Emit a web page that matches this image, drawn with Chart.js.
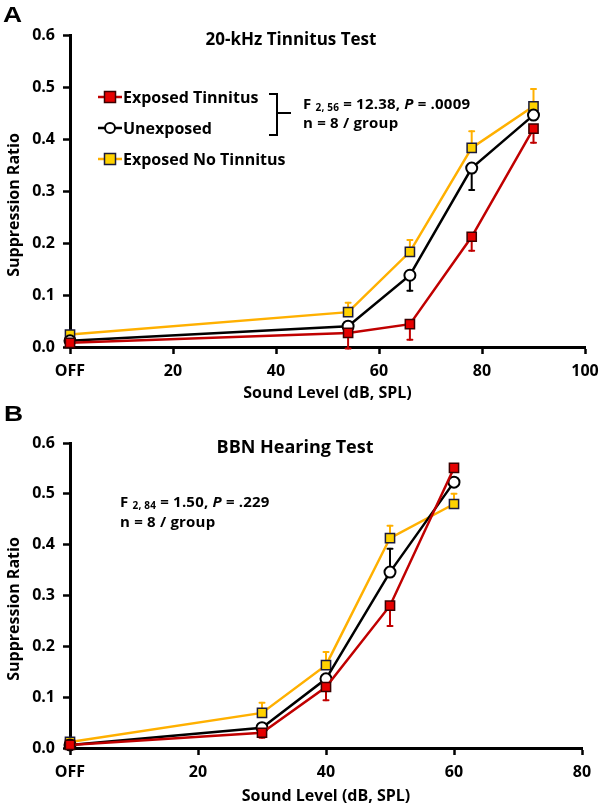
<!DOCTYPE html>
<html><head><meta charset="utf-8">
<script src="https://cdn.jsdelivr.net/npm/chart.js@4.4.1/dist/chart.umd.min.js"></script>
<style>
html,body{margin:0;padding:0;background:#fff;}
#wrap{position:relative;width:600px;height:806px;overflow:hidden;font-family:"Open Sans",sans-serif;}
.cv{position:absolute;left:0;width:600px;height:403px;}
.lab{position:absolute;font-weight:bold;color:#000;white-space:nowrap;line-height:1;}
.panel{font-family:"Liberation Sans",Arial,sans-serif;font-size:22px;transform:scaleX(1.2);transform-origin:0 0;}
.ttl{font-size:17px;transform:translateX(-50%);}
.ann{font-size:15px;letter-spacing:0.2px;}
.ann sub{font-size:10px;vertical-align:-2px;}
.ytl{font-size:16px;transform:translate(-50%,-50%) rotate(-90deg);}
</style></head><body>
<div id="wrap">
 <div class="cv" style="top:0"><canvas id="cA" width="600" height="403"></canvas></div>
 <div class="cv" style="top:403px"><canvas id="cB" width="600" height="403"></canvas></div>
 <div class="lab panel" style="left:3px;top:4px">A</div>
 <div class="lab panel" style="left:4px;top:403px">B</div>
 <div class="lab ttl" style="left:291px;top:30px">20-kHz Tinnitus Test</div>
 <div class="lab ttl" style="left:295px;top:437px;font-size:18px">BBN Hearing Test</div>
 <div class="lab ann" style="left:303px;top:96px">F <sub>2, 56</sub> = 12.38, <i>P</i> = .0009</div>
 <div class="lab ann" style="left:303px;top:115px">n = 8 / group</div>
 <div class="lab ann" style="left:120px;top:494px">F <sub>2, 84</sub> = 1.50, <i>P</i> = .229</div>
 <div class="lab ann" style="left:120px;top:514px">n = 8 / group</div>
 <div class="lab ytl" style="left:13px;top:205px">Suppression Ratio</div>
 <div class="lab ytl" style="left:13px;top:609px">Suppression Ratio</div>
</div>
<script>
// ---- Data ----
const seriesNames = ['Exposed Tinnitus', 'Unexposed', 'Exposed No Tinnitus'];
const xTickLabelOff = 'OFF';

const levelsA = [0, 54, 66, 78, 90];
const tinnitusA = [0.008, 0.027, 0.044, 0.212, 0.420];
const unexposedA = [0.012, 0.040, 0.138, 0.344, 0.446];
const noTinnitusA = [0.024, 0.067, 0.183, 0.383, 0.463];
const tinnitusErrA = [0, -0.030, -0.030, -0.027, -0.027];
const unexposedErrA = [0, 0, -0.030, -0.042, 0];
const noTinnitusErrA = [0, 0.018, 0.023, 0.032, 0.033];

const levelsB = [0, 30, 40, 50, 60];
const tinnitusB = [0.006, 0.030, 0.120, 0.280, 0.551];
const unexposedB = [0.006, 0.040, 0.136, 0.346, 0.523];
const noTinnitusB = [0.012, 0.069, 0.163, 0.413, 0.480];
const tinnitusErrB = [0, -0.010, -0.026, -0.040, 0];
const unexposedErrB = [0, 0, 0, 0.046, 0];
const noTinnitusErrB = [0, 0.020, 0.026, 0.024, 0.020];

// ---- Styles ----
const RED_LINE = '#c00000', RED_FILL = '#e60000', RED_EDGE = '#3a0000';
const YEL_LINE = '#ffb000', YEL_FILL = '#ffd200', YEL_EDGE = '#1a1a3a';
const BLK_LINE = '#000000';
const FONT = {family: '"Open Sans", sans-serif', weight: 'bold', size: 16};

function makeDatasets(levels, t, u, n, te, ue, ne) {
  const pts = (xs, ys) => xs.map((x, i) => ({x: x, y: ys[i]}));
  return [
    {label: seriesNames[0], data: pts(levels, t), errs: te, errColor: RED_LINE,
     borderColor: RED_LINE, backgroundColor: RED_FILL, borderWidth: 2.5,
     pointStyle: 'rect', pointRadius: 6.5, pointBackgroundColor: RED_FILL,
     pointBorderColor: RED_EDGE, pointBorderWidth: 1.5, clip: false, tension: 0},
    {label: seriesNames[1], data: pts(levels, u), errs: ue, errColor: BLK_LINE,
     borderColor: BLK_LINE, backgroundColor: '#fff', borderWidth: 2.5,
     pointStyle: 'circle', pointRadius: 5.5, pointBackgroundColor: '#ffffff',
     pointBorderColor: '#000', pointBorderWidth: 2, clip: false, tension: 0},
    {label: seriesNames[2], data: pts(levels, n), errs: ne, errColor: YEL_LINE,
     borderColor: YEL_LINE, backgroundColor: YEL_FILL, borderWidth: 2.5,
     pointStyle: 'rect', pointRadius: 6.5, pointBackgroundColor: YEL_FILL,
     pointBorderColor: YEL_EDGE, pointBorderWidth: 1.5, clip: false, tension: 0}
  ];
}

const errorBars = {
  id: 'errorBars',
  beforeDatasetsDraw(chart) {
    const ctx = chart.ctx, xs = chart.scales.x, ys = chart.scales.y;
    ctx.save();
    chart.data.datasets.forEach(ds => {
      ds.data.forEach((p, i) => {
        const e = ds.errs[i];
        if (!e) return;
        const px = xs.getPixelForValue(p.x);
        const y0 = ys.getPixelForValue(p.y), y1 = ys.getPixelForValue(p.y + e);
        ctx.strokeStyle = ds.errColor; ctx.lineWidth = 2; ctx.lineCap = 'round';
        ctx.beginPath(); ctx.moveTo(px, y0); ctx.lineTo(px, y1); ctx.stroke();
        ctx.beginPath(); ctx.moveTo(px - 2.5, y1); ctx.lineTo(px + 2.5, y1); ctx.stroke();
      });
    });
    ctx.restore();
  }
};

const legendA = {
  id: 'legendA',
  afterDraw(chart) {
    if (!chart.options.plugins.legendA || !chart.options.plugins.legendA.show) return;
    const ctx = chart.ctx;
    const rows = [97, 128, 159];
    ctx.save();
    chart.data.datasets.forEach((ds, i) => {
      const y = rows[i];
      ctx.strokeStyle = ds.borderColor; ctx.lineWidth = 2.5;
      ctx.beginPath(); ctx.moveTo(98, y); ctx.lineTo(122, y); ctx.stroke();
      ctx.fillStyle = ds.pointBackgroundColor; ctx.strokeStyle = ds.pointBorderColor; ctx.lineWidth = ds.pointBorderWidth;
      ctx.beginPath();
      if (ds.pointStyle === 'circle') { ctx.arc(110, y, 5, 0, Math.PI * 2); }
      else { ctx.rect(104.5, y - 5.5, 11, 11); }
      ctx.fill(); ctx.stroke();
      ctx.fillStyle = '#000'; ctx.font = 'bold 16px "Open Sans", sans-serif';
      ctx.textBaseline = 'middle'; ctx.textAlign = 'left';
      ctx.fillText(ds.label, 123, y + 1);
    });
    // bracket
    ctx.strokeStyle = '#000'; ctx.lineWidth = 2;
    ctx.beginPath();
    ctx.moveTo(269, 94); ctx.lineTo(277, 94); ctx.lineTo(277, 135); ctx.lineTo(269, 135);
    ctx.moveTo(277, 113); ctx.lineTo(291, 113);
    ctx.stroke();
    ctx.restore();
  }
};

function makeChart(id, datasets, xmax, padRight, padTop, xHeight, showLegend) {
  return new Chart(document.getElementById(id), {
    type: 'line',
    data: {datasets: datasets},
    plugins: [errorBars, legendA],
    options: {
      responsive: false, animation: false, devicePixelRatio: 1,
      layout: {padding: {top: padTop, right: padRight, bottom: 0, left: 0}},
      plugins: {legend: {display: false}, tooltip: {enabled: false}, title: {display: false},
        legendA: {show: showLegend}},
      scales: {
        x: {type: 'linear', min: 0, max: xmax,
          ticks: {stepSize: 20, autoSkip: false, maxRotation: 0, color: '#000', font: FONT, padding: 8,
            callback: v => v === 0 ? xTickLabelOff : String(v)},
          grid: {display: true, drawOnChartArea: false, drawTicks: true, tickLength: 7, tickWidth: 2.5, tickColor: '#000'},
          border: {display: true, color: '#000', width: 3},
          title: {display: true, text: 'Sound Level (dB, SPL)', color: '#000', font: FONT, padding: {top: 0, bottom: 0}},
          afterFit: s => { s.height = xHeight; s.paddingLeft = 0; s.paddingRight = 0; }
        },
        y: {min: 0, max: 0.6,
          ticks: {stepSize: 0.1, color: '#000', font: FONT, padding: 8,
            callback: v => Number(v).toFixed(1)},
          grid: {display: true, drawOnChartArea: false, drawTicks: true, tickLength: 7, tickWidth: 2.5, tickColor: '#000'},
          border: {display: true, color: '#000', width: 3},
          title: {display: false},
          afterFit: s => { s.width = 70; s.paddingTop = 0; s.paddingBottom = 0; }
        }
      }
    }
  });
}

makeChart('cA', makeDatasets(levelsA, tinnitusA, unexposedA, noTinnitusA, tinnitusErrA, unexposedErrA, noTinnitusErrA), 100, 15, 35, 56, true);
makeChart('cB', makeDatasets(levelsB, tinnitusB, unexposedB, noTinnitusB, tinnitusErrB, unexposedErrB, noTinnitusErrB), 80, 18, 40, 58, false);
</script>
</body></html>
